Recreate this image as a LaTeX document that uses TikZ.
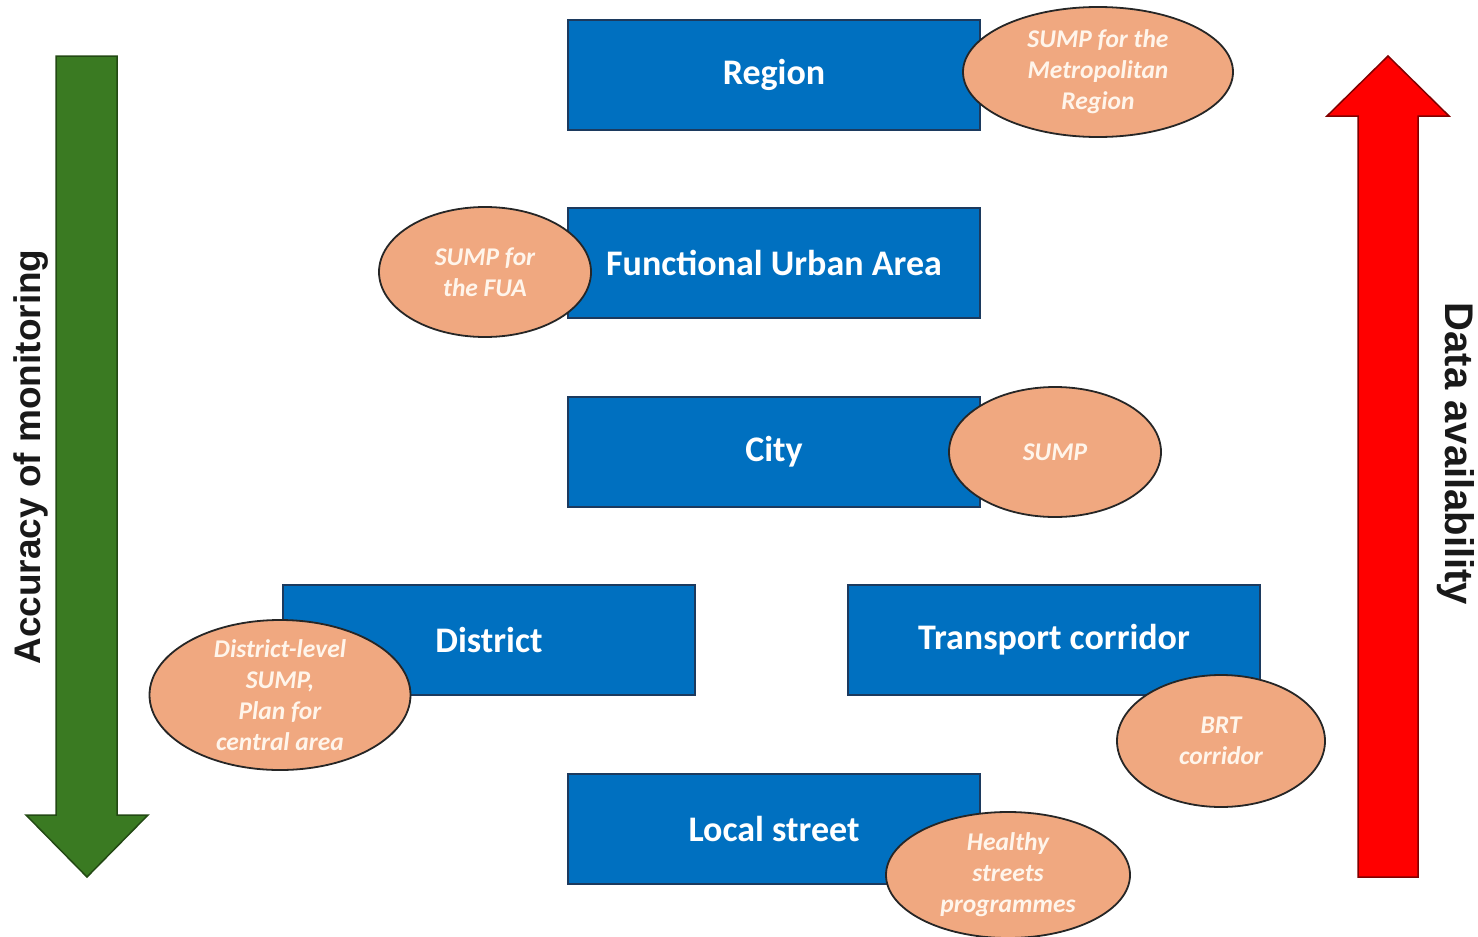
\documentclass[tikz,border=0pt]{standalone}
\usepackage{fontspec}
\setmainfont{Carlito}
\newfontfamily\sidefont{Liberation Sans}
\usetikzlibrary{positioning,shapes.geometric}
\definecolor{lvlblue}{HTML}{0070C0}
\definecolor{lvledge}{HTML}{1C3A5E}
\definecolor{planfill}{HTML}{F0A880}
\definecolor{accgreen}{HTML}{3A7A22}
\definecolor{datared}{HTML}{FF0000}
\tikzset{
  level/.style    = {draw=lvledge, line width=1.5pt, fill=lvlblue, minimum width=412pt,
                     minimum height=110pt, inner sep=0pt, text=white,
                     font=\fontsize{36}{42}\selectfont\bfseries},
  plan/.style     = {ellipse, draw=black!85, line width=1.8pt, fill=planfill, inner sep=0pt},
  plantext/.style = {align=center, text=white!92!orange, inner sep=0pt,
                     font=\fontsize{25.5}{31}\selectfont\bfseries\itshape},
  bigarrow/.style = {line width=1.5pt, line join=miter},
  side/.style     = {text=black!90, inner sep=0pt},
}

\begin{document}
\begin{tikzpicture}[x=1pt, y=-1pt]
  \useasboundingbox (0,0) rectangle (1478,937);
  % side arrows
  \draw[bigarrow, draw=accgreen!60!black, fill=accgreen]
    (56,56) -- (117,56) -- (117,815) -- (148,815) -- (87,877) -- (26,815) -- (56,815) -- cycle;
  \draw[bigarrow, draw=datared!50!black, fill=datared]
    (1358,877) -- (1418,877) -- (1418,116) -- (1449,116) -- (1388,56) -- (1327,116) -- (1358,116) -- cycle;
  \node[side, rotate=90, font=\sidefont\fontsize{37}{44}\selectfont\bfseries] (acc) at (31,457) {Accuracy of monitoring};
  \node[side, rotate=-90, font=\sidefont\fontsize{40}{46}\selectfont\bfseries] (data) at (1456,454) {Data availability};
  % spatial levels
  \node[level] (region) at (774,75) {Region};
  \node[level] (fua) at (774,263) {Functional Urban Area};
  \node[level] (city) at (774,452) {City};
  \node[level] (district) at (489,640) {District};
  \node[level] (corridor) at (1054,640) {Transport corridor};
  \node[level] (street) at (774,829) {Local street};
  % plans
  \node[plan, minimum width=270pt, minimum height=130pt] (regplan) at (1098,72) {};
  \node[plantext] at (regplan) {SUMP for the\\Metropolitan\\Region};
  \node[plan, minimum width=212pt, minimum height=130pt] (fuaplan) at (485,272) {};
  \node[plantext] at (fuaplan) {SUMP for\\the FUA};
  \node[plan, minimum width=212pt, minimum height=130pt] (cityplan) at (1055,452) {};
  \node[plantext] at (cityplan) {SUMP};
  \node[plan, minimum width=261pt, minimum height=150pt] (distplan) at (280,695) {};
  \node[plantext] at (distplan) {District-level\\SUMP,\\Plan for\\central area};
  \node[plan, minimum width=208pt, minimum height=132pt] (brtplan) at (1221,741) {};
  \node[plantext] at (brtplan) {BRT\\corridor};
  \node[plan, minimum width=244pt, minimum height=126pt] (streetplan) at (1008,875) {};
  \node[plantext] at (streetplan) {Healthy\\streets\\programmes};
\end{tikzpicture}
\end{document}
